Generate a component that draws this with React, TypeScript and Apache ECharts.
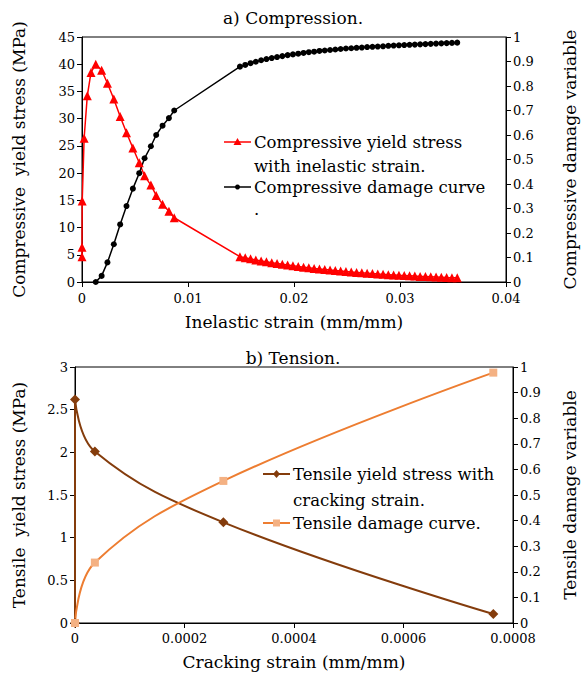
import React, { useEffect, useRef } from "react";
import * as echarts from "echarts";

const FONT = "DejaVu Serif";

// a) Compression — yield stress vs inelastic strain
const compEarlyStrain = [0, 0, 0.00002, 0.0002, 0.0005, 0.00085, 0.0013, 0.00185, 0.0024, 0.003, 0.0036, 0.0042, 0.0048, 0.0054, 0.0059, 0.0065, 0.007, 0.0076, 0.0082, 0.0087];
const compEarlyStress = [4.65, 6.4, 14.9, 26.4, 34.2, 38.5, 40.0, 38.9, 36.5, 33.6, 30.4, 27.4, 24.6, 21.9, 19.5, 17.8, 15.9, 14.3, 13.0, 11.8];
const tailStrain = [0.0149, 0.0154, 0.0159, 0.0164, 0.0169, 0.0174, 0.0179, 0.0184, 0.0189, 0.0194, 0.0199, 0.0204, 0.0209, 0.0214, 0.0219, 0.0224, 0.0229, 0.0234, 0.0239, 0.0244, 0.0249, 0.0254, 0.0259, 0.0264, 0.0269, 0.0274, 0.0279, 0.0284, 0.0289, 0.0294, 0.0299, 0.0304, 0.0309, 0.0314, 0.0319, 0.0324, 0.0329, 0.0334, 0.0339, 0.0344, 0.0349, 0.0354];
const compTailStress = [4.65, 4.45, 4.25, 4.06, 3.88, 3.71, 3.55, 3.40, 3.25, 3.11, 2.98, 2.85, 2.73, 2.61, 2.50, 2.39, 2.29, 2.19, 2.10, 2.01, 1.92, 1.84, 1.76, 1.68, 1.61, 1.54, 1.47, 1.41, 1.35, 1.29, 1.23, 1.18, 1.13, 1.08, 1.03, 0.99, 0.95, 0.91, 0.87, 0.83, 0.80, 0.77];

// a) Compression — damage variable
const dmgEarlyStrain = [0.0013, 0.00185, 0.0024, 0.003, 0.0036, 0.0042, 0.0048, 0.0054, 0.0059, 0.0065, 0.007, 0.0076, 0.0082, 0.0087];
const dmgEarlyValue = [0, 0.025, 0.08, 0.154, 0.235, 0.31, 0.381, 0.444, 0.505, 0.554, 0.6, 0.638, 0.669, 0.70];
const dmgTailValue = [0.879, 0.886, 0.893, 0.899, 0.905, 0.910, 0.914, 0.918, 0.922, 0.926, 0.929, 0.932, 0.935, 0.938, 0.940, 0.943, 0.945, 0.947, 0.949, 0.951, 0.953, 0.954, 0.956, 0.957, 0.959, 0.960, 0.961, 0.962, 0.964, 0.965, 0.966, 0.967, 0.968, 0.969, 0.970, 0.971, 0.972, 0.973, 0.974, 0.975, 0.976, 0.977];

// b) Tension
const tensStrain = [0, 0, 0.0000363, 0.000271, 0.000764];
const tensStress = [0, 2.62, 2.01, 1.18, 0.105];
const tensDmgStrain = [0, 0.0000363, 0.000271, 0.000764];
const tensDmg = [0, 0.236, 0.555, 0.978];

const pairs = (xs: number[], ys: number[]) => xs.map((x, i) => [x, ys[i]]);

const axisCommon = {
  type: "value" as const,
  nameLocation: "middle" as const,
  nameTextStyle: { fontSize: 17, fontFamily: FONT, color: "#000" },
  axisLine: { show: true, onZero: false, lineStyle: { color: "#000", width: 1 } },
  axisTick: { show: true, length: 5, lineStyle: { color: "#000" } },
  axisLabel: { fontSize: 13, fontFamily: FONT, color: "#000", margin: 7 },
  splitLine: { show: false },
};

const txt = (text: string, x: number, y: number) => ({
  type: "text",
  style: { text, x, y, fontSize: 16.5, fontFamily: FONT, fill: "#000", textAlign: "left", textVerticalAlign: "middle" },
});

export default function App() {
  const ref = useRef<HTMLDivElement>(null);
  useEffect(() => {
    if (!ref.current) return;
    const chart = echarts.init(ref.current, undefined, { renderer: "svg" });
    chart.setOption({
      animation: false,
      backgroundColor: "#fff",
      title: [
        { text: "a) Compression.", left: "center", top: 4, textStyle: { fontSize: 17, fontWeight: "normal", fontFamily: FONT, color: "#000" } },
        { text: "b) Tension.", left: "center", top: 344, textStyle: { fontSize: 17, fontWeight: "normal", fontFamily: FONT, color: "#000" } },
      ],
      grid: [
        { left: 82, top: 37, width: 426, height: 245, show: true, borderColor: "#000", borderWidth: 1, backgroundColor: "transparent" },
        { left: 75, top: 367, width: 441, height: 256, show: true, borderColor: "#000", borderWidth: 1, backgroundColor: "transparent" },
      ],
      xAxis: [
        { ...axisCommon, gridIndex: 0, min: 0, max: 0.04, interval: 0.01, name: "Inelastic strain (mm/mm)", nameGap: 31, axisLabel: { ...axisCommon.axisLabel, margin: 10 } },
        { ...axisCommon, gridIndex: 1, min: 0, max: 0.0008, interval: 0.0002, name: "Cracking strain (mm/mm)", nameGap: 30, axisLabel: { ...axisCommon.axisLabel, margin: 9 } },
      ],
      yAxis: [
        { ...axisCommon, gridIndex: 0, position: "left", min: 0, max: 45, interval: 5, name: "Compressive  yield stress (MPa)", nameGap: 55 },
        { ...axisCommon, gridIndex: 0, position: "right", min: 0, max: 1, interval: 0.1, name: "Compressive damage variable", nameGap: 55 },
        { ...axisCommon, gridIndex: 1, position: "left", min: 0, max: 3, interval: 0.5, name: "Tensile  yield stress (MPa)", nameGap: 48 },
        { ...axisCommon, gridIndex: 1, position: "right", min: 0, max: 1, interval: 0.1, name: "Tensile damage variable", nameGap: 48 },
      ],
      series: [
        {
          name: "Compressive yield stress with inelastic strain.",
          type: "line", xAxisIndex: 0, yAxisIndex: 0,
          data: pairs(compEarlyStrain.concat(tailStrain), compEarlyStress.concat(compTailStress)),
          symbol: "triangle", symbolSize: 9,
          itemStyle: { color: "#ff0000" }, lineStyle: { color: "#ff0000", width: 1.5 },
        },
        {
          name: "Compressive damage curve",
          type: "line", xAxisIndex: 0, yAxisIndex: 1,
          data: pairs(dmgEarlyStrain.concat(tailStrain), dmgEarlyValue.concat(dmgTailValue)),
          symbol: "circle", symbolSize: 6,
          itemStyle: { color: "#000" }, lineStyle: { color: "#000", width: 1.5 },
        },
        {
          name: "Tensile yield stress with cracking strain.",
          type: "line", xAxisIndex: 1, yAxisIndex: 2, smooth: 0.4,
          data: pairs(tensStrain, tensStress),
          symbol: "diamond", symbolSize: 10,
          itemStyle: { color: "#843c0c" }, lineStyle: { color: "#843c0c", width: 2 },
        },
        {
          name: "Tensile damage curve.",
          type: "line", xAxisIndex: 1, yAxisIndex: 3, smooth: 0.4,
          data: pairs(tensDmgStrain, tensDmg),
          symbol: "rect", symbolSize: 8,
          itemStyle: { color: "#f4b183" }, lineStyle: { color: "#ed7d31", width: 2 },
        },
      ],
      graphic: [
        { type: "line", shape: { x1: 224, y1: 142, x2: 251, y2: 142 }, style: { stroke: "#ff0000", lineWidth: 1.5 } },
        { type: "polygon", shape: { points: [[237.5, 138], [241.5, 145], [233.5, 145]] }, style: { fill: "#ff0000" } },
        txt("Compressive yield stress", 254, 142),
        txt("with inelastic strain.", 254, 166),
        { type: "line", shape: { x1: 224, y1: 187, x2: 251, y2: 187 }, style: { stroke: "#000", lineWidth: 1.5 } },
        { type: "circle", shape: { cx: 237.5, cy: 187, r: 2.5 }, style: { fill: "#000" } },
        txt("Compressive damage curve", 254, 187),
        txt(".", 254, 209),
        { type: "line", shape: { x1: 263, y1: 474, x2: 290, y2: 474 }, style: { stroke: "#843c0c", lineWidth: 2 } },
        { type: "polygon", shape: { points: [[276.5, 470], [280, 474], [276.5, 478], [273, 474]] }, style: { fill: "#843c0c" } },
        txt("Tensile yield stress with", 293, 474),
        txt("cracking strain.", 293, 500),
        { type: "line", shape: { x1: 263, y1: 523, x2: 290, y2: 523 }, style: { stroke: "#ed7d31", lineWidth: 2 } },
        { type: "rect", shape: { x: 273, y: 519.5, width: 7, height: 7 }, style: { fill: "#f4b183" } },
        txt("Tensile damage curve.", 293, 523),
      ],
    });
    return () => chart.dispose();
  }, []);
  return <div ref={ref} style={{ position: "fixed", left: 0, top: 0, width: 586, height: 674 }} />;
}
